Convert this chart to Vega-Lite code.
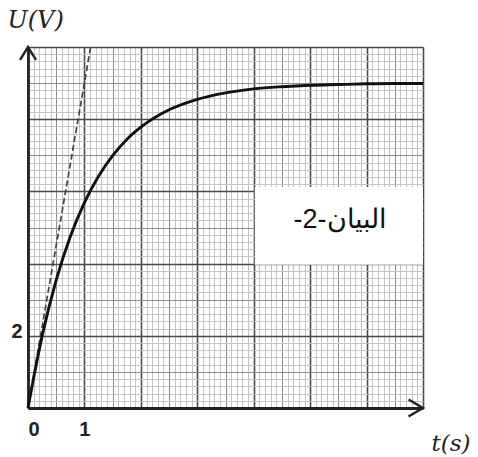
{
  "$schema": "https://vega.github.io/schema/vega-lite/v6.json",
  "width": 395,
  "height": 361,
  "autosize": {"type": "none"},
  "padding": {"left": 28, "top": 47, "right": 55, "bottom": 49},
  "background": "white",
  "config": {"view": {"stroke": null}, "font": "Liberation Sans"},
  "datasets": {
    "curve": [
      {"t": 0, "U": 0}, {"t": 0.25, "U": 1.99}, {"t": 0.5, "U": 3.54}, {"t": 0.75, "U": 4.75},
      {"t": 1, "U": 5.69}, {"t": 1.25, "U": 6.42}, {"t": 1.5, "U": 6.99}, {"t": 1.75, "U": 7.44},
      {"t": 2, "U": 7.78}, {"t": 2.5, "U": 8.26}, {"t": 3, "U": 8.55}, {"t": 3.5, "U": 8.73},
      {"t": 4, "U": 8.84}, {"t": 4.5, "U": 8.9}, {"t": 5, "U": 8.94}, {"t": 5.5, "U": 8.96},
      {"t": 6, "U": 8.98}, {"t": 6.5, "U": 8.99}, {"t": 7, "U": 8.99}
    ],
    "tangent": [{"t": 0, "U": 0}, {"t": 1.11, "U": 10}],
    "box": [{"t0": 4.02, "t1": 7.0, "u0": 3.97, "u1": 6.12}],
    "label": [{"t": 5.53, "U": 5.2, "txt": "\u200fالبيان-2-\u200f"}],
    "yarrow": [{"t": 0, "U": 10}],
    "xarrow": [{"t": 7, "U": 0}]
  },
  "layer": [
    {
      "data": {"name": "box"},
      "mark": {"type": "rect", "fill": "white", "stroke": null},
      "encoding": {
        "x": {
          "field": "t0", "type": "quantitative",
          "scale": {"domain": [0, 7], "nice": false, "zero": false},
          "axis": {
            "values": [0,0.1,0.2,0.3,0.4,0.5,0.6,0.7,0.8,0.9,1,1.1,1.2,1.3,1.4,1.5,1.6,1.7,1.8,1.9,2,2.1,2.2,2.3,2.4,2.5,2.6,2.7,2.8,2.9,3,3.1,3.2,3.3,3.4,3.5,3.6,3.7,3.8,3.9,4,4.1,4.2,4.3,4.4,4.5,4.6,4.7,4.8,4.9,5,5.1,5.2,5.3,5.4,5.5,5.6,5.7,5.8,5.9,6,6.1,6.2,6.3,6.4,6.5,6.6,6.7,6.8,6.9,7],
            "tickCount": 500,
            "grid": true,
            "gridColor": {"condition": [
              {"test": "abs(datum.value - round(datum.value)) < 0.01", "value": "#4a4a4a"},
              {"test": "abs(datum.value*2 - round(datum.value*2)) < 0.01", "value": "#8c8c8c"}
            ], "value": "#bfbfbf"},
            "gridWidth": {"condition": [
              {"test": "abs(datum.value - round(datum.value)) < 0.01", "value": 1.6},
              {"test": "abs(datum.value*2 - round(datum.value*2)) < 0.01", "value": 1}
            ], "value": 0.9},
            "ticks": false,
            "domain": true, "domainColor": "#222222", "domainWidth": 2.8,
            "labelExpr": "datum.value === 0 ? '0' : (datum.value === 1 ? '1' : '')",
            "labelOverlap": false,
            "labelFont": "Liberation Sans",
            "labelFontSize": 20, "labelFontWeight": "bold", "labelColor": "#222222",
            "labelPadding": 11,
            "title": "t(s)", "titleFont": "DejaVu Serif", "titleFontStyle": "italic",
            "titleFontWeight": "normal", "titleFontSize": 23, "titleColor": "#222222",
            "titleX": 403, "titleY": 42, "titleAlign": "left", "titleBaseline": "alphabetic"
          }
        },
        "x2": {"field": "t1"},
        "y": {
          "field": "u0", "type": "quantitative",
          "scale": {"domain": [0, 10], "nice": false, "zero": false},
          "axis": {
            "values": [0,0.2,0.4,0.6,0.8,1,1.2,1.4,1.6,1.8,2,2.2,2.4,2.6,2.8,3,3.2,3.4,3.6,3.8,4,4.2,4.4,4.6,4.8,5,5.2,5.4,5.6,5.8,6,6.2,6.4,6.6,6.8,7,7.2,7.4,7.6,7.8,8,8.2,8.4,8.6,8.8,9,9.2,9.4,9.6,9.8,10],
            "tickCount": 500,
            "grid": true,
            "gridColor": {"condition": [
              {"test": "abs(datum.value/2 - round(datum.value/2)) < 0.01", "value": "#4a4a4a"},
              {"test": "abs(datum.value - round(datum.value)) < 0.01", "value": "#8c8c8c"}
            ], "value": "#bfbfbf"},
            "gridWidth": {"condition": [
              {"test": "abs(datum.value/2 - round(datum.value/2)) < 0.01", "value": 1.6},
              {"test": "abs(datum.value - round(datum.value)) < 0.01", "value": 1}
            ], "value": 0.9},
            "ticks": false,
            "domain": true, "domainColor": "#222222", "domainWidth": 2.8,
            "labelExpr": "datum.value === 2 ? '2' : ''",
            "labelOverlap": false,
            "labelFont": "Liberation Sans",
            "labelFontSize": 20, "labelFontWeight": "bold", "labelColor": "#222222",
            "labelPadding": 6,
            "labelOffset": -4,
            "title": "U(V)", "titleFont": "DejaVu Serif", "titleFontStyle": "italic",
            "titleFontWeight": "normal", "titleFontSize": 24, "titleColor": "#222222",
            "titleAngle": 0, "titleX": -21, "titleY": -20, "titleAlign": "left", "titleBaseline": "alphabetic"
          }
        },
        "y2": {"field": "u1"}
      }
    },
    {
      "data": {"name": "tangent"},
      "mark": {"type": "line", "color": "#444444", "strokeWidth": 1.7, "strokeDash": [6, 3]},
      "encoding": {
        "x": {"field": "t", "type": "quantitative"},
        "y": {"field": "U", "type": "quantitative"}
      }
    },
    {
      "data": {"name": "curve"},
      "mark": {"type": "line", "color": "#111111", "strokeWidth": 2.9, "interpolate": "monotone"},
      "encoding": {
        "x": {"field": "t", "type": "quantitative"},
        "y": {"field": "U", "type": "quantitative"}
      }
    },
    {
      "data": {"name": "label"},
      "mark": {"type": "text", "fontSize": 27, "font": "Liberation Sans", "color": "#111111", "align": "center", "baseline": "middle"},
      "encoding": {
        "x": {"field": "t", "type": "quantitative"},
        "y": {"field": "U", "type": "quantitative"},
        "text": {"field": "txt"}
      }
    },
    {
      "data": {"name": "yarrow"},
      "mark": {"type": "point", "shape": "M-1,1.6L0,0L1,1.6", "filled": false, "stroke": "#222222", "strokeWidth": 2.4, "size": 256, "opacity": 1},
      "encoding": {
        "x": {"field": "t", "type": "quantitative"},
        "y": {"field": "U", "type": "quantitative"}
      }
    },
    {
      "data": {"name": "xarrow"},
      "mark": {"type": "point", "shape": "M-1.7,-1L0,0L-1.7,1", "filled": false, "stroke": "#222222", "strokeWidth": 2.4, "size": 289, "opacity": 1},
      "encoding": {
        "x": {"field": "t", "type": "quantitative"},
        "y": {"field": "U", "type": "quantitative"}
      }
    }
  ]
}
